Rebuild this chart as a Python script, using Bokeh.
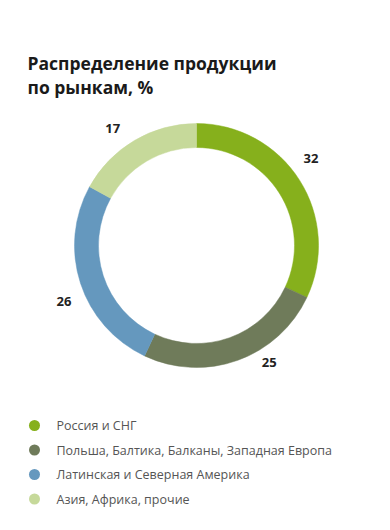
import math
from bokeh.plotting import figure
from bokeh.models import ColumnDataSource, Range1d
from bokeh.core.properties import value
from bokeh.embed import file_html
from bokeh.resources import INLINE

title_lines = ["Распределение продукции", "по рынкам, %"]
categories = ["Россия и СНГ", "Польша, Балтика, Балканы, Западная Европа",
              "Латинская и Северная Америка", "Азия, Африка, прочие"]
values = [32, 25, 26, 17]
colors = ["#86b01c", "#6f7b5a", "#6598be", "#c6d99a"]
# label placement tweaks (degrees counter-clockwise from slice middle, radius)
label_shift = [5, 12, 5, 5]
label_radius = [144, 138, 144, 144]

W, H = 374, 514
p = figure(width=W, height=H, output_backend="svg", toolbar_location=None,
           x_range=Range1d(0, W), y_range=Range1d(0, H), min_border=0)
p.axis.visible = False
p.grid.visible = False
p.outline_line_color = None
p.background_fill_color = "white"

cx, cy = 196, 269
r_out, r_in = 122, 98
total = sum(values)
starts, ends, lx, ly = [], [], [], []
cum = 0
for v, sh, rr in zip(values, label_shift, label_radius):
    a0 = math.pi / 2 - 2 * math.pi * cum / total
    cum += v
    a1 = math.pi / 2 - 2 * math.pi * cum / total
    starts.append(a0)
    ends.append(a1)
    mid = (a0 + a1) / 2 + math.radians(sh)
    lx.append(cx + rr * math.cos(mid))
    ly.append(cy + rr * math.sin(mid))

src = ColumnDataSource(dict(start=starts, end=ends, color=colors,
                            lx=lx, ly=ly, lab=[str(v) for v in values]))
p.annular_wedge(x=cx, y=cy, inner_radius=r_in, outer_radius=r_out,
                start_angle="start", end_angle="end", direction="clock",
                fill_color="color", line_color="color", line_width=0.5, source=src)
p.text(x="lx", y="ly", text="lab", source=src, text_align="center",
       text_baseline="middle", text_font=value("Open Sans"), text_font_style="bold",
       text_font_size="13px", text_color="#222222")

# title
p.text(x=[27, 27], y=[522 - 70, 522 - 94], text=title_lines,
       text_font=value("Open Sans"), text_font_style="bold",
       text_font_size="17.5px", text_color="#1a1a1a", text_baseline="alphabetic")

# legend
ys = [514 - (425 + 24.5 * i) for i in range(len(categories))]
lsrc = ColumnDataSource(dict(y=ys, cat=categories, color=colors))
p.scatter(x=34, y="y", size=11, marker="circle", fill_color="color",
          line_color=None, source=lsrc)
p.text(x=56, y="y", text="cat", source=lsrc, text_baseline="middle",
       text_font=value("Open Sans"), text_font_size="12.5px", text_color="#555555")

open("out.html", "w").write(file_html(p, INLINE))
